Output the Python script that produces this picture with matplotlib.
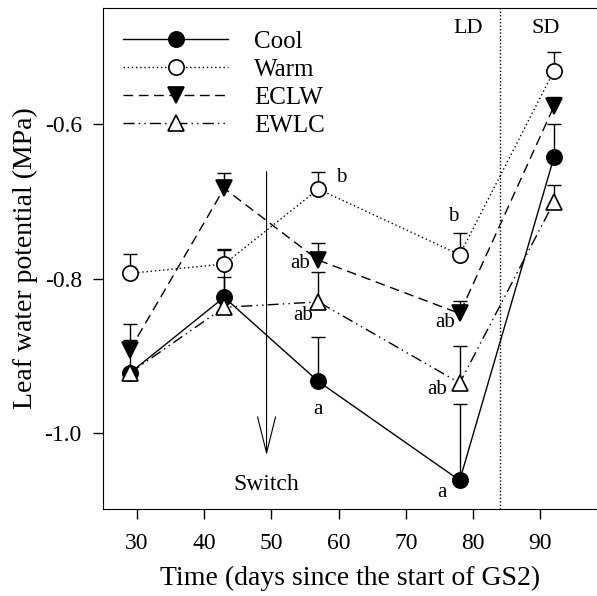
import matplotlib.pyplot as plt
import numpy as np

plt.rcParams['font.family'] = ['Liberation Serif', 'DejaVu Serif']

days = [29, 43, 57, 78, 92]
cool = [-0.922, -0.824, -0.933, -1.061, -0.643]
cool_err = [0.043, 0.062, 0.057, 0.099, 0.043]
warm = [-0.793, -0.781, -0.684, -0.769, -0.531]
warm_err = [0.025, 0.018, 0.022, 0.028, 0.025]
eclw = [-0.892, -0.683, -0.776, -0.845, -0.577]
eclw_err = [0.033, 0.020, 0.022, 0.016, 0.012]
ewlc = [-0.922, -0.837, -0.830, -0.935, -0.701]
ewlc_err = [0.0, 0.039, 0.039, 0.048, 0.022]

# significance letters: (x, y, text)
letters = [(60.4, -0.669, 'b'), (54.3, -0.780, 'ab'), (54.8, -0.847, 'ab'),
           (56.9, -0.969, 'a'), (77.0, -0.720, 'b'), (75.8, -0.857, 'ab'),
           (74.6, -0.944, 'ab'), (75.3, -1.077, 'a')]

fig = plt.figure(figsize=(5.97, 5.96), dpi=100)
ax = fig.add_axes([0.172, 0.146, 0.828, 0.8414])

series = [
    ('Cool', cool, cool_err, '-', 'o', 'black'),
    ('Warm', warm, warm_err, (0, (1, 2)), 'o', 'white'),
    ('ECLW', eclw, eclw_err, (0, (7, 4)), 'v', 'black'),
    ('EWLC', ewlc, ewlc_err, (0, (8, 3, 1, 3, 1, 3)), '^', 'white'),
]

for name, vals, err, ls, mk, fc in series:
    vals = np.array(vals)
    err = np.array(err)
    keep = err > 0
    top = vals + err
    # upper error bars only, cap on top
    ax.vlines(np.array(days)[keep], vals[keep], top[keep], color='black',
              lw=1, zorder=2)
    ax.plot(np.array(days)[keep], top[keep], linestyle='none', marker='_',
            markersize=10.5, markeredgewidth=1, color='black', zorder=2)
    ax.plot(days, vals, linestyle=ls, color='black', lw=1, marker=mk,
            markersize=11, markerfacecolor=fc, markeredgecolor='black',
            markeredgewidth=1.2, label=name, zorder=3)

ax.axvline(84, color='black', linestyle=(0, (1, 1.5)), lw=1)

ax.annotate('', xy=(49.3, -1.032), xytext=(49.3, -0.658),
            arrowprops=dict(arrowstyle='->,head_length=2.6,head_width=0.65',
                            color='black', lw=0.8))
ax.text(49.3, -1.066, 'Switch', ha='center', va='center', fontsize=17)

for x, y, t in letters:
    ax.text(x, y, t, ha='center', va='center', fontsize=15)

ax.text(79.3, -0.476, 'LD', ha='center', va='center', fontsize=16)
ax.text(90.8, -0.476, 'SD', ha='center', va='center', fontsize=16)

ax.set_xlim(24.95, 98.4)
ax.set_ylim(-1.098, -0.449)
ax.spines['right'].set_visible(False)
ax.set_xticks([30, 40, 50, 60, 70, 80, 90])
ax.set_yticks([-1.0, -0.8, -0.6])
ax.set_yticklabels(['-1.0', '-0.8', '-0.6'])
ax.tick_params(direction='out', length=7, width=1, labelsize=17)
ax.tick_params(axis='x', pad=10)
ax.tick_params(axis='y', pad=8)
ax.set_xlabel('Time (days since the start of GS2)', fontsize=20, labelpad=9)
ax.set_ylabel('Leaf water potential (MPa)', fontsize=20, labelpad=5)

ax.legend(loc='upper left', frameon=False, handlelength=4.2, fontsize=18,
          borderaxespad=0, borderpad=0.4, labelspacing=0.22, handletextpad=1.04,
          bbox_to_anchor=(0.021, 0.975))

fig.savefig('out.png', dpi=100)
